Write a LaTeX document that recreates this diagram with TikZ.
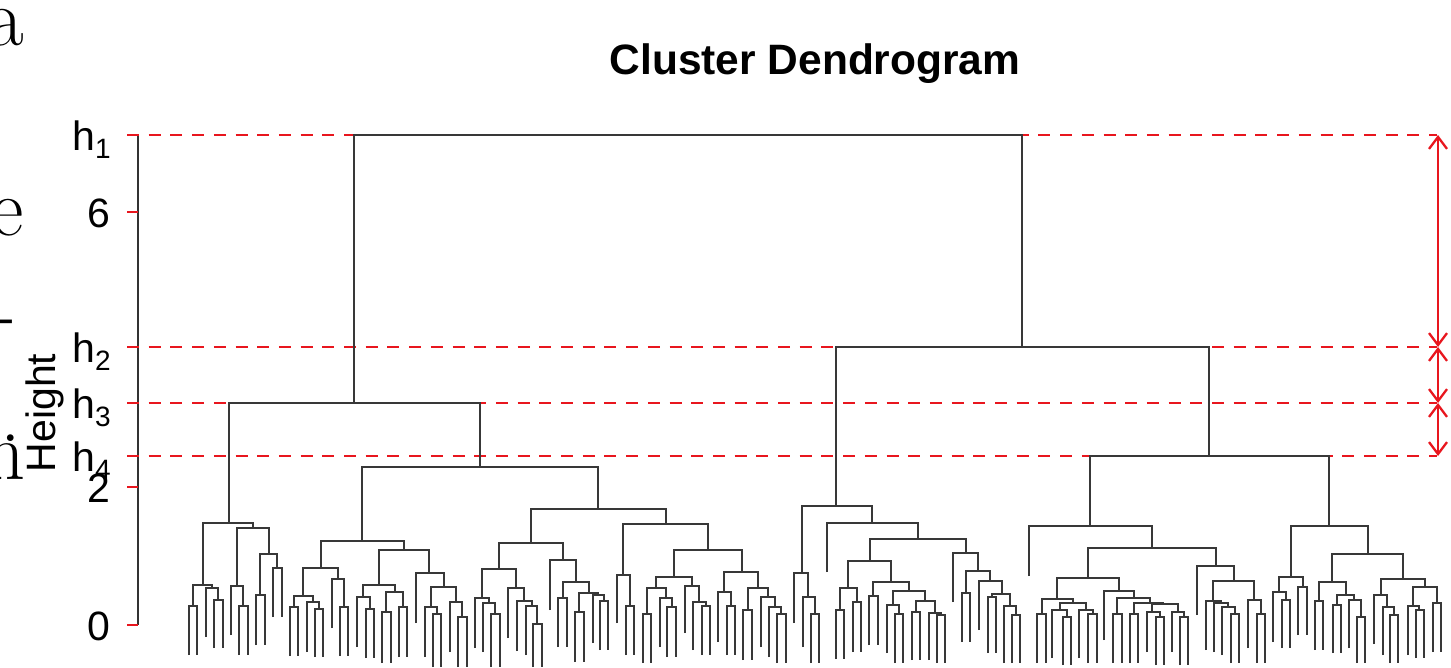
\documentclass[tikz,border=0pt]{standalone}
\usepackage{fontspec}
\newfontfamily\plotfont{Liberation Sans}
\usetikzlibrary{arrows.meta}
\definecolor{hred}{RGB}{232,22,30}

% U-Verbindung: x links, x rechts, Hoehe, Ende links, Ende rechts
\newcommand{\lnk}[5]{\draw[dend] (#1,#4) |- (#2,#3) -- (#2,#5);}
\newcommand{\hlab}[1]{h\raisebox{-8pt}{\fontsize{28}{30}\selectfont #1}}

\begin{document}
\begin{tikzpicture}[x=1pt,y=-1pt]
	\tikzstyle{every node}=[inner sep=0pt, font=\plotfont\fontsize{41}{45}\selectfont]
	\tikzstyle{dend}=[line width=2pt, black!78]
	\tikzstyle{hline}=[hred, line width=2.8pt, dash pattern=on 12pt off 9.7pt]
	\tikzstyle{harrow}=[hred, line width=2.3pt, {Straight Barb[length=12pt,width=18pt]}-{Straight Barb[length=12pt,width=18pt]}]
	\tikzstyle{frag}=[font=\rmfamily\fontsize{82}{90}\selectfont, anchor=base east]
	\clip (0,0) rectangle (1451,667);
	
	%Textreste am Rand
	\node[frag] (fa) at (24,45) {a};
	\node[frag] (fe) at (24,235) {e};
	\node[frag] (fd) at (16,339) {-};
	\node[frag] (fp) at (21,441) {.};
	\node[frag] (fn) at (26,479) {n};
	
	\node[font=\plotfont\bfseries\fontsize{42.5}{48}\selectfont, anchor=base] (title) at (815,74) {Cluster Dendrogram};
	
	%Achse
	\draw[line width=2pt, black!80] (138,135) -- (138,625);
	\foreach \y in {135,212,347,403,456,487,625} \draw[hred, line width=1.8pt] (127,\y) -- (138,\y);
	\node[anchor=base east] (l6) at (111,227) {6};
	\node[anchor=base east] (l2) at (111,502) {2};
	\node[anchor=base east] (l0) at (111,640) {0};
	\node[anchor=base east] (h1) at (111,150) {\hlab{1}};
	\node[anchor=base east] (h2) at (111,362) {\hlab{2}};
	\node[anchor=base east] (h3) at (111,418) {\hlab{3}};
	\node[anchor=base east] (h4) at (111,471) {\hlab{4}};
	\node[rotate=90] (ylab) at (45,413) {Height};
	
	%Schnitthoehen
	\foreach \y in {135,347,403,456} \draw[hline] (127,\y) -- (1437,\y);
	\draw[harrow] (1438,135) -- (1438,347);
	\draw[harrow] (1438,347) -- (1438,403);
	\draw[harrow] (1438,403) -- (1438,456);
	
	%Dendrogramm
	\lnk{354}{1022}{135}{403}{347}
	\lnk{229}{480}{403}{523}{467}
	\lnk{203}{253}{523}{585}{528}
	\lnk{193}{212}{585}{606}{588}
	\lnk{189}{197}{606}{655}{655}
	\lnk{206}{218}{588}{637}{600}
	\lnk{214}{223}{600}{648}{648}
	\lnk{237}{269}{528}{586}{554}
	\lnk{231}{243}{586}{635}{606}
	\lnk{239}{248}{606}{655}{655}
	\lnk{260}{277}{554}{595}{568}
	\lnk{256}{265}{595}{645}{645}
	\lnk{273}{282}{568}{617}{617}
	
	\lnk{362}{598}{467}{541}{509}
	\lnk{321}{404}{541}{568}{550}
	\lnk{303}{338}{568}{596}{579}
	\lnk{294}{313}{596}{607}{602}
	\lnk{290}{298}{607}{656}{656}
	\lnk{307}{319}{602}{652}{609}
	\lnk{315}{323}{609}{657}{657}
	\lnk{332}{344}{579}{628}{607}
	\lnk{340}{348}{607}{656}{656}
	\lnk{379}{429}{550}{585}{573}
	\lnk{363}{395}{585}{597}{592}
	\lnk{357}{370}{597}{647}{609}
	\lnk{366}{374}{609}{658}{658}
	\lnk{386}{403}{592}{612}{607}
	\lnk{382}{391}{612}{663}{663}
	\lnk{399}{407}{607}{657}{657}
	\lnk{416}{444}{573}{623}{587}
	\lnk{431}{456}{587}{607}{602}
	\lnk{425}{437}{607}{657}{614}
	\lnk{433}{441}{614}{667}{667}
	\lnk{450}{462}{602}{652}{617}
	\lnk{458}{467}{617}{667}{667}
	
	\lnk{531}{666}{509}{543}{524}
	\lnk{499}{563}{543}{569}{560}
	\lnk{482}{516}{569}{598}{588}
	\lnk{475}{489}{598}{648}{603}
	\lnk{483}{495}{603}{652}{614}
	\lnk{491}{500}{614}{667}{667}
	\lnk{508}{524}{588}{638}{601}
	\lnk{517}{532}{601}{651}{606}
	\lnk{526}{537}{606}{655}{624}
	\lnk{533}{542}{624}{667}{667}
	\lnk{550}{576}{560}{610}{582}
	\lnk{563}{589}{582}{598}{593}
	\lnk{558}{567}{598}{647}{647}
	\lnk{579}{598}{593}{612}{595}
	\lnk{575}{584}{612}{662}{662}
	\lnk{593}{604}{595}{643}{601}
	\lnk{600}{608}{601}{650}{650}
	
	\lnk{623}{708}{524}{575}{550}
	\lnk{617}{630}{575}{623}{606}
	\lnk{626}{634}{606}{655}{655}
	\lnk{674}{742}{550}{577}{572}
	\lnk{656}{692}{577}{588}{586}
	\lnk{647}{666}{588}{614}{598}
	\lnk{643}{651}{614}{663}{663}
	\lnk{660}{672}{598}{647}{607}
	\lnk{667}{676}{607}{657}{657}
	\lnk{685}{699}{586}{633}{602}
	\lnk{693}{706}{602}{650}{606}
	\lnk{702}{710}{606}{655}{655}
	\lnk{724}{758}{572}{592}{588}
	\lnk{718}{731}{592}{642}{606}
	\lnk{727}{735}{606}{655}{655}
	\lnk{748}{768}{588}{610}{597}
	\lnk{743}{752}{610}{660}{660}
	\lnk{761}{775}{597}{647}{607}
	\lnk{769}{781}{607}{657}{614}
	\lnk{777}{786}{614}{663}{663}
	
	\lnk{836}{1209}{347}{506}{456}
	\lnk{802}{872}{506}{573}{523}
	\lnk{794}{808}{573}{623}{597}
	\lnk{803}{815}{597}{647}{614}
	\lnk{811}{819}{614}{663}{663}
	\lnk{827}{918}{523}{572}{539}
	\lnk{870}{966}{539}{561}{553}
	\lnk{848}{891}{561}{588}{582}
	\lnk{840}{857}{588}{610}{602}
	\lnk{836}{844}{610}{659}{659}
	\lnk{853}{861}{602}{652}{652}
	\lnk{873}{909}{582}{596}{591}
	\lnk{869}{878}{596}{645}{645}
	\lnk{893}{925}{591}{605}{601}
	\lnk{887}{899}{605}{653}{614}
	\lnk{895}{903}{614}{663}{663}
	\lnk{916}{935}{601}{612}{613}
	\lnk{912}{920}{612}{660}{660}
	\lnk{929}{941}{613}{660}{615}
	\lnk{937}{945}{615}{663}{663}
	\lnk{953}{978}{553}{602}{571}
	\lnk{966}{990}{571}{593}{581}
	\lnk{962}{970}{593}{642}{642}
	\lnk{979}{1002}{581}{630}{594}
	\lnk{992}{1010}{594}{597}{606}
	\lnk{988}{996}{597}{653}{653}
	\lnk{1004}{1016}{606}{663}{615}
	\lnk{1012}{1020}{615}{663}{663}
	
	\lnk{1090}{1329}{456}{526}{526}
	\lnk{1029}{1152}{526}{576}{548}
	\lnk{1088}{1216}{548}{578}{566}
	\lnk{1057}{1119}{578}{599}{591}
	\lnk{1042}{1073}{599}{614}{603}
	\lnk{1037}{1046}{614}{663}{663}
	\lnk{1060}{1086}{603}{610}{610}
	\lnk{1052}{1067}{610}{658}{617}
	\lnk{1063}{1071}{617}{665}{665}
	\lnk{1079}{1093}{610}{658}{614}
	\lnk{1088}{1097}{614}{663}{663}
	\lnk{1104}{1134}{591}{640}{598}
	\lnk{1117}{1150}{598}{614}{603}
	\lnk{1113}{1122}{614}{663}{663}
	\lnk{1134}{1163}{603}{614}{604}
	\lnk{1130}{1138}{614}{663}{663}
	\lnk{1152}{1178}{604}{612}{612}
	\lnk{1147}{1160}{612}{652}{617}
	\lnk{1156}{1164}{617}{665}{665}
	\lnk{1172}{1184}{612}{652}{617}
	\lnk{1180}{1188}{617}{665}{665}
	\lnk{1197}{1234}{566}{615}{581}
	\lnk{1213}{1254}{581}{601}{600}
	\lnk{1206}{1221}{601}{650}{603}
	\lnk{1214}{1228}{603}{652}{607}
	\lnk{1222}{1235}{607}{655}{614}
	\lnk{1231}{1239}{614}{663}{663}
	\lnk{1248}{1261}{600}{648}{614}
	\lnk{1257}{1265}{614}{663}{663}
	
	\lnk{1291}{1368}{526}{577}{554}
	\lnk{1279}{1303}{577}{592}{587}
	\lnk{1273}{1286}{592}{642}{600}
	\lnk{1282}{1290}{600}{648}{648}
	\lnk{1298}{1307}{587}{635}{635}
	\lnk{1332}{1403}{554}{582}{579}
	\lnk{1319}{1346}{582}{601}{595}
	\lnk{1315}{1323}{601}{650}{650}
	\lnk{1337}{1354}{595}{605}{600}
	\lnk{1333}{1341}{605}{653}{653}
	\lnk{1349}{1361}{600}{648}{617}
	\lnk{1357}{1365}{617}{663}{663}
	\lnk{1381}{1425}{579}{595}{587}
	\lnk{1374}{1387}{595}{644}{607}
	\lnk{1383}{1394}{607}{655}{615}
	\lnk{1390}{1398}{615}{663}{663}
	\lnk{1413}{1437}{587}{606}{603}
	\lnk{1408}{1419}{606}{655}{610}
	\lnk{1416}{1424}{610}{658}{658}
	\lnk{1433}{1441}{603}{652}{652}
\end{tikzpicture}
\end{document}
